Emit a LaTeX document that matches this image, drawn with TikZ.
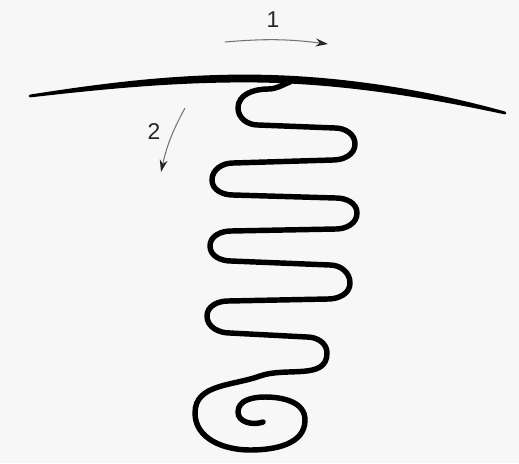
\documentclass[tikz,border=0pt]{standalone}
\usepackage{fontspec}
\setsansfont{Liberation Sans}
\usepackage{tikz}
\usetikzlibrary{arrows.meta,positioning}

\begin{document}
\begin{tikzpicture}[
    x=0.02cm, y=0.02cm,
    wire/.style={draw, line width=3.1pt, line cap=round, line join=round},
    move/.style={draw=black!55, line width=0.6pt, -{Stealth[length=7pt,width=4.5pt,black!85]}},
    num/.style={font=\sffamily\fontsize{13}{15}\selectfont, text=black!85}
  ]
    \fill[black!3] (0,0) rectangle (519,-463);
    \useasboundingbox (0,0) rectangle (519,-463);
    % surface line, thicker in the middle
    \coordinate (sl) at (30,-96);
    \coordinate (sm) at (245,-78);
    \coordinate (sr) at (505,-113);
    \filldraw[line width=1.6pt, line cap=round, line join=round]
      (sl) .. controls (100,-85) and (170,-76) .. (245,-76)
      .. controls (340,-76) and (430,-92) .. (sr)
      .. controls (430,-97) and (340,-81) .. (245,-81)
      .. controls (170,-81) and (100,-88) .. (sl) -- cycle;
    % coil hanging from the line
    \coordinate (c0) at (290,-82);
    \draw[wire] (c0) to[out=200,in=0] (268,-89) to[out=180,in=90] (238,-108)
      to[out=-90,in=180] (258,-125) -- (335,-128) to[out=0,in=90] (355,-144)
      to[out=-90,in=0] (333,-160) -- (233,-163) to[out=180,in=90] (212,-180)
      to[out=-90,in=180] (233,-195) -- (336,-198) to[out=0,in=90] (357,-213)
      to[out=-90,in=0] (336,-229) -- (231,-231) to[out=180,in=90] (210,-246)
      to[out=-90,in=180] (231,-261) -- (330,-265) to[out=0,in=90] (350,-283)
      to[out=-90,in=0] (328,-299) -- (228,-301) to[out=180,in=90] (207,-316)
      to[out=-90,in=180] (230,-333) -- (307,-337) to[out=0,in=90] (327,-353)
      to[out=-90,in=20] (260,-376) to[out=200,in=90] (195,-413)
      to[out=-90,in=180] (250,-450) to[out=0,in=-90] (305,-420)
      to[out=90,in=0] (265,-397) to[out=180,in=90] (238,-412)
      to[out=-90,in=200] (263,-422);
    % direction marks
    \coordinate (a1s) at (225,-42);
    \coordinate (a1e) at (328,-44);
    \draw[move] (a1s) to[bend left=6] (a1e);
    \node[num] (n1) at (273,-20) {1};
    \coordinate (a2s) at (185,-108);
    \coordinate (a2e) at (161,-172);
    \draw[move] (a2s) to[bend right=8] (a2e);
    \node[num] (n2) at (154,-132) {2};
\end{tikzpicture}
\end{document}
